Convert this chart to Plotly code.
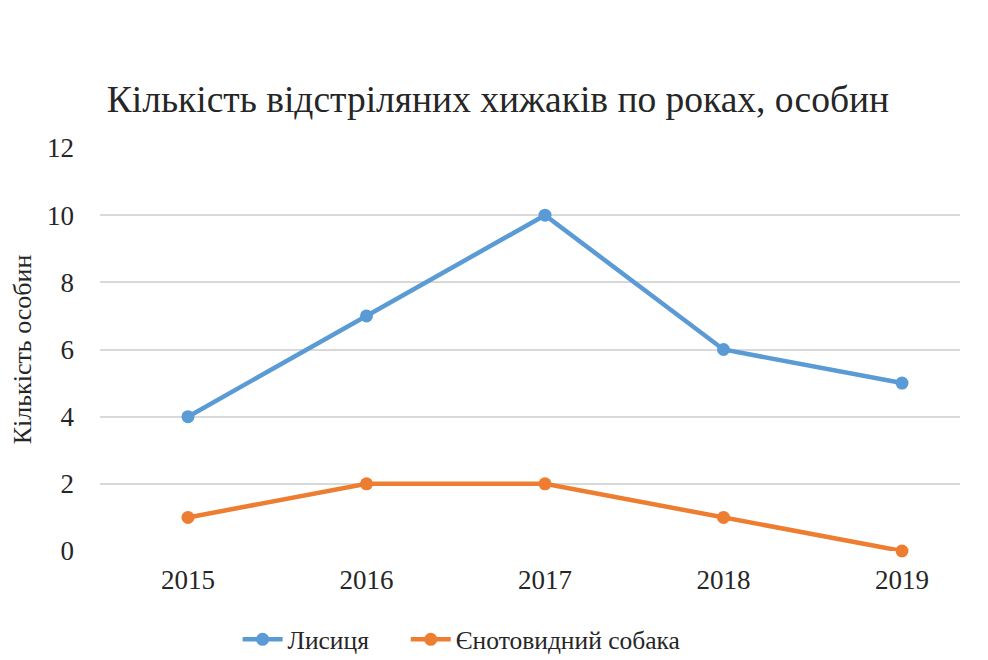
import plotly.graph_objects as go

years = ["2015", "2016", "2017", "2018", "2019"]
fox = [4, 7, 10, 6, 5]
raccoon_dog = [1, 2, 2, 1, 0]
series_names = ["Лисиця", "Єнотовидний собака"]
title_text = "Кількість відстріляних хижаків по роках, особин"
y_title = "Кількість особин"

FONT = "Liberation Serif, Times New Roman, serif"
TXT = "#262626"
GAP = "\u00a0" * 5

fig = go.Figure()
fig.add_trace(go.Scatter(
    x=years, y=fox, name=series_names[0] + GAP, mode="lines+markers",
    line=dict(color="#5B9BD5", width=4.5), cliponaxis=False,
    marker=dict(color="#5B9BD5", size=13, symbol="circle"),
))
fig.add_trace(go.Scatter(
    x=years, y=raccoon_dog, name=series_names[1], mode="lines+markers",
    line=dict(color="#ED7D31", width=4.5), cliponaxis=False,
    marker=dict(color="#ED7D31", size=13, symbol="circle"),
))

# page has an 8px body margin, so the figure is 980x652 and offsets are compensated
fig.update_layout(
    width=980, height=652,
    paper_bgcolor="white", plot_bgcolor="white",
    margin=dict(l=92, r=28, t=140, b=109),
    font=dict(family=FONT, color=TXT),
    title=dict(text=title_text, x=0.5, xanchor="center", y=0.86, yanchor="middle",
               font=dict(family=FONT, size=37.5, color=TXT)),
    xaxis=dict(type="category", range=[-0.493, 4.325], showgrid=False, automargin=False,
               showline=False, zeroline=False, ticks="", ticklabelstandoff=10,
               tickfont=dict(family=FONT, size=27, color=TXT)),
    yaxis=dict(range=[0, 12], dtick=2, showgrid=True, gridcolor="#d9d9d9", gridwidth=1.5,
               zeroline=False, showline=False, ticks="", automargin=False,
               ticklabelstandoff=25,
               tickfont=dict(family=FONT, size=27, color=TXT),
               title=dict(text=y_title, font=dict(family=FONT, size=26, color=TXT),
                          standoff=39)),
    legend=dict(orientation="h", x=0.16, xanchor="left",
                yref="container", y=0.031, yanchor="middle",
                font=dict(family=FONT, size=25.5, color=TXT),
                itemwidth=40, tracegroupgap=0),
    showlegend=True,
)

fig.write_html("out.html")
